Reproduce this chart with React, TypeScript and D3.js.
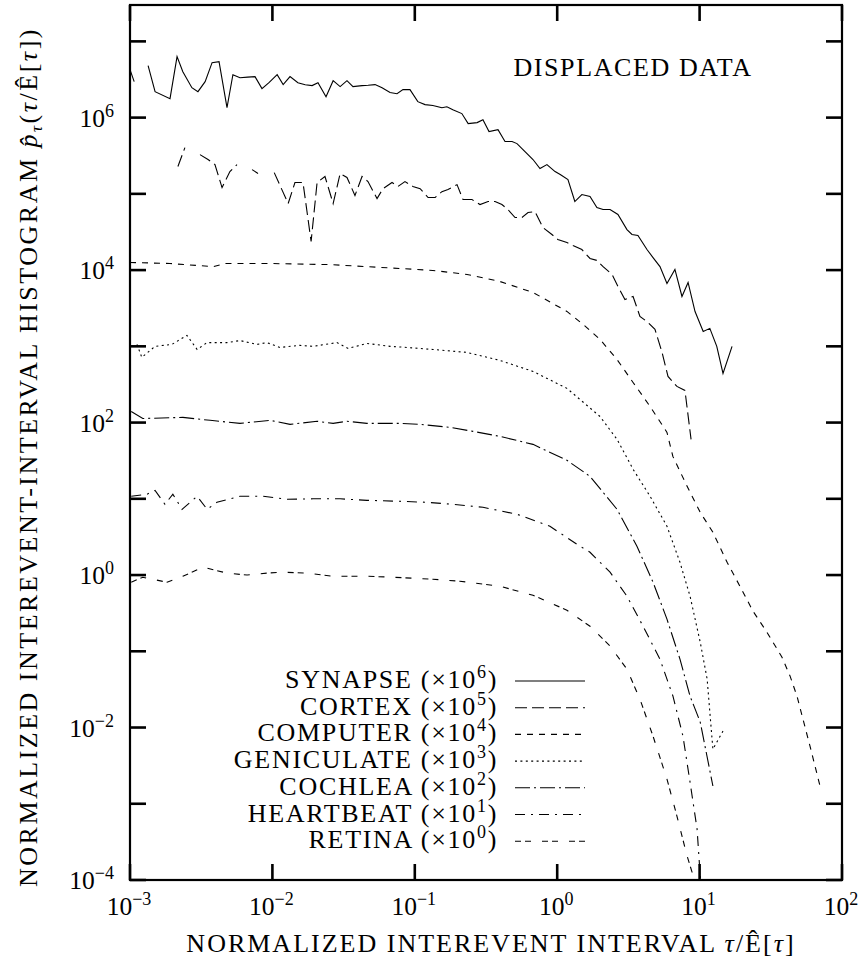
import React from "react";
import * as d3 from "d3";

type Pt = [number, number | null];

// ---- data (tau / E[tau], unscaled histogram value) ----
const synapse: Pt[] = [
  [1.0e-3, 4.26], [1.07e-3, 2.96], [1.2e-3, null], [1.34e-3, 4.8], [1.5e-3, 2.19], [1.91e-3, 1.77],
  [2.14e-3, 6.3], [2.35e-3, 4.0], [2.72e-3, 2.47], [3.0e-3, 2.19], [3.37e-3, 2.96], [3.77e-3, 5.26],
  [4.22e-3, 5.42], [4.8e-3, 1.35], [5.28e-3, 3.66], [5.92e-3, 3.34], [6.7e-3, 3.4], [7.55e-3, 3.45],
  [8.45e-3, 2.4], [9.46e-3, 2.87], [1.08e-2, 3.66], [1.19e-2, 2.71], [1.33e-2, 3.45], [1.51e-2, 2.87],
  [1.7e-2, 2.7], [1.9e-2, 2.63], [2.09e-2, 2.87], [2.38e-2, 1.88], [2.67e-2, 3.05], [2.99e-2, 2.55],
  [3.34e-2, 3.05], [3.68e-2, 2.55], [4.26e-2, 2.63], [4.7e-2, 2.66], [5.26e-2, 2.71], [5.89e-2, 2.47],
  [6.7e-2, 2.13], [7.5e-2, 2.06], [8.26e-2, 2.33], [9.25e-2, 2.33], [0.105, 1.62], [0.118, 1.48],
  [0.134, 1.44], [0.155, 1.35], [0.168, 1.39], [0.185, 1.27], [0.214, 1.13], [0.237, 0.834],
  [0.274, 0.86], [0.301, 0.94], [0.332, 0.656], [0.384, 0.696], [0.43, 0.485], [0.482, 0.485],
  [0.522, 0.456], [0.594, 0.358], [0.676, 0.282], [0.757, 0.215], [0.847, 0.242], [0.966, 0.196],
  [1.05, 0.179], [1.19, 0.154], [1.33, 0.0793], [1.49, 0.098], [1.7, 0.0922], [1.9, 0.0661],
  [2.1, 0.0622], [2.35, 0.0622], [2.67, 0.0536], [3.09, 0.034], [3.35, 0.0293], [3.69, 0.0284],
  [4.27, 0.0186], [4.71, 0.0146], [5.27, 0.0111], [5.9, 0.00667], [6.71, 0.0102], [7.52, 0.00451],
  [8.3, 0.00688], [9.29, 0.00286], [10.6, 0.00157], [11.8, 0.00172], [13.2, 0.000998],
  [14.6, 0.000441], [16.9, 0.000998],
];

const cortex: Pt[] = [
  [2.17e-3, 2.28], [2.43e-3, 4.04], [2.7e-3, null], [3.1e-3, 3.27], [3.53e-3, 2.82], [3.95e-3, 2.42],
  [4.43e-3, 1.21], [5.03e-3, 1.96], [5.64e-3, 2.42], [6.4e-3, null], [7.2e-3, 2.08], [7.93e-3, 1.85],
  [9.0e-3, null], [1.03e-2, 1.9], [1.29e-2, 0.746], [1.44e-2, 1.41], [1.64e-2, 1.41], [1.87e-2, 0.237],
  [2.06e-2, 1.41], [2.34e-2, 1.69], [2.67e-2, 0.746], [2.99e-2, 1.85], [3.34e-2, 1.64], [3.8e-2, 0.95],
  [4.26e-2, 1.69], [4.69e-2, 1.45], [5.43e-2, 0.868], [5.98e-2, 1.17], [6.92e-2, 1.41], [7.62e-2, 1.25],
  [8.53e-2, 1.45], [9.7e-2, 1.25], [0.109, 1.17], [0.124, 0.895], [0.139, 0.895], [0.155, 1.07],
  [0.171, 1.14], [0.198, 1.32], [0.218, 0.842], [0.252, 0.842], [0.287, 0.724], [0.327, 0.793],
  [0.366, 0.793], [0.409, 0.724], [0.451, 0.623], [0.506, 0.489], [0.566, 0.489], [0.624, 0.569],
  [0.698, 0.586], [0.794, 0.362], [0.918, 0.293], [1.01, 0.252], [1.17, 0.23], [1.29, 0.21],
  [1.49, 0.186], [1.7, 0.142], [1.9, 0.134], [2.1, 0.111], [2.43, 0.0875], [2.67, 0.061],
  [2.99, 0.0412], [3.41, 0.0451], [3.81, 0.0247], [4.34, 0.0206], [4.86, 0.0167], [5.45, 0.00832],
  [6.0, 0.00403], [6.93, 0.00298], [7.89, 0.00264], [8.71, 0.000603],
];

const computer: Pt[] = [
  [1.0e-3, 1.26], [1.91e-3, 1.22], [3.83e-3, 1.11], [4.65e-3, 1.22], [9.62e-3, 1.22], [2.53e-2, 1.18],
  [7.87e-2, 1.05], [0.134, 0.99], [0.233, 0.876], [0.396, 0.709], [0.676, 0.509], [1.17, 0.287],
  [1.52, 0.194], [2.0, 0.123], [2.63, 0.0673], [3.41, 0.0336], [4.49, 0.0163], [5.9, 0.00744],
  [6.49, 0.0036], [8.17, 0.00146], [10.1, 0.000665], [12.4, 0.000364], [15.6, 0.000147],
  [19.2, 7.13e-5], [23.7, 3.36e-5], [29.7, 1.78e-5], [37.9, 8.37e-6], [43.2, 4.72e-6],
  [48.3, 2.58e-6], [53.2, 1.29e-6], [59.6, 5.7e-7], [70.1, 1.71e-7],
];

const geniculate: Pt[] = [
  [1.12e-3, 1.06], [1.21e-3, 0.716], [1.5e-3, 1.0], [1.97e-3, 1.06], [2.51e-3, 1.39], [2.96e-3, 0.91],
  [3.48e-3, 1.12], [4.8e-3, 1.12], [5.92e-3, 1.19], [7.8e-3, 1.06], [9.16e-3, 1.12], [1.13e-2, 0.967],
  [1.56e-2, 1.03], [1.93e-2, 1.0], [2.84e-2, 1.12], [3.4e-2, 0.939], [4.61e-2, 1.09], [6.7e-2, 1.0],
  [8.81e-2, 0.967], [0.134, 0.91], [0.233, 0.832], [0.396, 0.653], [0.676, 0.469], [1.17, 0.281],
  [2.0, 0.12], [2.63, 0.0603], [3.41, 0.0244], [4.49, 0.0108], [5.9, 0.00436], [7.28, 0.00147],
  [8.57, 0.000527], [10.1, 0.000132], [11.3, 4.31e-5], [11.8, 1.59e-5], [12.4, 5.21e-6],
  [14.6, 8.97e-6],
];

const cochlea: Pt[] = [
  [1.02e-3, 1.4], [1.23e-3, 1.13], [2.35e-3, 1.17], [3.65e-3, 1.07], [5.92e-3, 0.976], [9.62e-3, 1.07],
  [1.33e-2, 0.947], [2.06e-2, 1.04], [2.67e-2, 0.976], [3.34e-2, 1.04], [4.61e-2, 0.976],
  [7.87e-2, 0.976], [0.109, 0.947], [0.177, 0.865], [0.256, 0.767], [0.396, 0.659], [0.676, 0.518],
  [1.17, 0.32], [1.7, 0.197], [2.63, 0.0728], [3.63, 0.0239], [4.71, 0.00805], [5.9, 0.00264],
  [7.28, 0.000788], [8.57, 0.000258], [10.1, 0.000118], [12.4, 1.71e-5],
];

const heartbeat: Pt[] = [
  [1.02e-3, 1.08], [1.32e-3, 1.15], [1.5e-3, 1.29], [1.76e-3, 0.847], [2.0e-3, 1.15], [2.32e-3, 0.728],
  [2.96e-3, 1.08], [3.48e-3, 0.728], [4.08e-3, 0.9], [5.92e-3, 1.08], [8.59e-3, 1.08], [1.27e-2, 0.985],
  [1.93e-2, 1.0], [2.99e-2, 1.0], [4.61e-2, 0.955], [7.87e-2, 0.927], [0.122, 0.9], [0.185, 0.847],
  [0.301, 0.774], [0.522, 0.627], [0.889, 0.436], [1.38, 0.253], [1.7, 0.199], [2.35, 0.109],
  [3.09, 0.0527], [4.01, 0.0213], [5.27, 0.00787], [6.5, 0.00258], [7.64, 0.000771], [8.57, 0.000192],
  [9.6, 4.66e-5], [10.1, 1.13e-5], [10.4, 4.2e-6],
];

const retina: Pt[] = [
  [1.02e-3, 0.805], [1.23e-3, 0.936], [1.82e-3, 0.805], [2.35e-3, 0.964], [3.26e-3, 1.27], [4.8e-3, 1.06],
  [6.64e-3, 1.0], [9.16e-3, 1.06], [1.19e-2, 1.09], [1.75e-2, 1.06], [2.67e-2, 0.964], [4.61e-2, 0.964],
  [7.03e-2, 0.936], [0.134, 0.881], [0.207, 0.83], [0.396, 0.713], [0.676, 0.543], [1.17, 0.346],
  [1.7, 0.213], [2.35, 0.117], [3.09, 0.0582], [3.81, 0.0236], [4.71, 0.0077], [5.9, 0.00211],
  [6.93, 0.00069], [8.17, 0.000206], [8.85, 0.000127], [9.29, 7.6e-5],
];

const seriesNames = ["SYNAPSE", "CORTEX", "COMPUTER", "GENICULATE", "COCHLEA", "HEARTBEAT", "RETINA"];
const seriesExponents = [6, 5, 4, 3, 2, 1, 0];
const seriesData = [synapse, cortex, computer, geniculate, cochlea, heartbeat, retina];
const seriesDash = ["none", "12,5", "6,6", "2,3.4", "15,4,2,4", "10,6,2,6", "6,4,6,11"];

const xTickValues = [1e-3, 1e-2, 1e-1, 1, 10, 100];
const xTickExps = ["−3", "−2", "−1", "0", "1", "2"];
const yTickValues = [1e-4, 1e-3, 1e-2, 1e-1, 1, 10, 100, 1e3, 1e4, 1e5, 1e6, 1e7];
const yLabelValues = [1e-4, 1e-2, 1, 100, 1e4, 1e6];
const yLabelExps = ["−4", "−2", "0", "2", "4", "6"];

const FONT = "'Liberation Serif', 'Times New Roman', serif";

export default function App() {
  const L = 130, R = 842, T = 5, B = 880;
  const x = d3.scaleLog().domain([1e-3, 1e2]).range([L, R]);
  const y = d3.scaleLog().domain([1e-4, 3e7]).range([B, T]);
  const tickLen = 16;

  const paths = seriesData.map((data, i) => {
    const k = Math.pow(10, seriesExponents[i]);
    const gen = d3
      .line<Pt>()
      .defined((d) => d[1] !== null)
      .x((d) => x(d[0]))
      .y((d) => y((d[1] as number) * k));
    return gen(data) || "";
  });

  const legendX0 = 515, legendX1 = 585, legendY0 = 681, legendDy = 26.7;

  return (
    <svg
      width={864}
      height={964}
      style={{ position: "absolute", left: 0, top: 0, background: "#fff" }}
      fontFamily={FONT}
    >
      <rect x={0} y={0} width={864} height={964} fill="#fff" />
      <defs>
        <clipPath id="plotClip">
          <rect x={L} y={T} width={R - L} height={B - T} />
        </clipPath>
      </defs>

      {/* curves */}
      <g clipPath="url(#plotClip)">
        {paths.map((p, i) => (
          <path
            key={i}
            d={p}
            fill="none"
            stroke="#000"
            strokeWidth={1.1}
            strokeDasharray={seriesDash[i] === "none" ? undefined : seriesDash[i]}
          />
        ))}
      </g>

      {/* frame */}
      <rect x={L} y={T} width={R - L} height={B - T} fill="none" stroke="#000" strokeWidth={2.2} />

      {/* x ticks */}
      {xTickValues.map((v, i) => (
        <g key={"xt" + i}>
          <line x1={x(v)} x2={x(v)} y1={B} y2={B - tickLen} stroke="#000" strokeWidth={2.6} />
          <line x1={x(v)} x2={x(v)} y1={T} y2={T + tickLen} stroke="#000" strokeWidth={2.6} />
          <text x={x(v) - 1} y={915} fontSize={25.5} textAnchor="middle">
            10
            <tspan dy={-10} fontSize={18}>
              {xTickExps[i]}
            </tspan>
          </text>
        </g>
      ))}

      {/* y ticks */}
      {yTickValues.map((v, i) => (
        <g key={"yt" + i}>
          <line x1={L} x2={L + tickLen} y1={y(v)} y2={y(v)} stroke="#000" strokeWidth={2.6} />
          <line x1={R} x2={R - tickLen} y1={y(v)} y2={y(v)} stroke="#000" strokeWidth={2.6} />
        </g>
      ))}
      {yLabelValues.map((v, i) => (
        <text key={"yl" + i} x={114} y={y(v) + 9} fontSize={25.5} textAnchor="end">
          10
          <tspan dy={-10} fontSize={18}>
            {yLabelExps[i]}
          </tspan>
        </text>
      ))}

      {/* annotation */}
      <text x={633} y={76} fontSize={26} textAnchor="middle" letterSpacing={1.6}>
        DISPLACED DATA
      </text>

      {/* legend */}
      {seriesNames.map((name, i) => {
        const ly = legendY0 + i * legendDy;
        return (
          <g key={"lg" + i}>
            <text x={498} y={ly + 7} fontSize={26} textAnchor="end" letterSpacing={1.7}>
              {name} (×10
              <tspan dy={-10} fontSize={18}>
                {String(seriesExponents[i])}
              </tspan>
              <tspan dy={10}>)</tspan>
            </text>
            <line
              x1={legendX0}
              x2={legendX1}
              y1={ly}
              y2={ly}
              stroke="#000"
              strokeWidth={1.1}
              strokeDasharray={seriesDash[i] === "none" ? undefined : seriesDash[i]}
            />
          </g>
        );
      })}

      {/* axis titles */}
      <text x={491} y={952} fontSize={26} textAnchor="middle" letterSpacing={2.0}>
        NORMALIZED INTEREVENT INTERVAL{" "}
        <tspan fontStyle="italic">τ</tspan>/Ê[<tspan fontStyle="italic">τ</tspan>]
      </text>
      <text
        transform="translate(37,457) rotate(-90)"
        fontSize={26}
        textAnchor="middle"
        letterSpacing={2.5}
      >
        NORMALIZED INTEREVENT-INTERVAL HISTOGRAM{" "}
        <tspan fontStyle="italic">p̂</tspan>
        <tspan dy={5} fontSize={17} fontStyle="italic">τ</tspan>
        <tspan dy={-5}>(</tspan>
        <tspan fontStyle="italic">τ</tspan>/Ê[<tspan fontStyle="italic">τ</tspan>])
      </text>
    </svg>
  );
}
